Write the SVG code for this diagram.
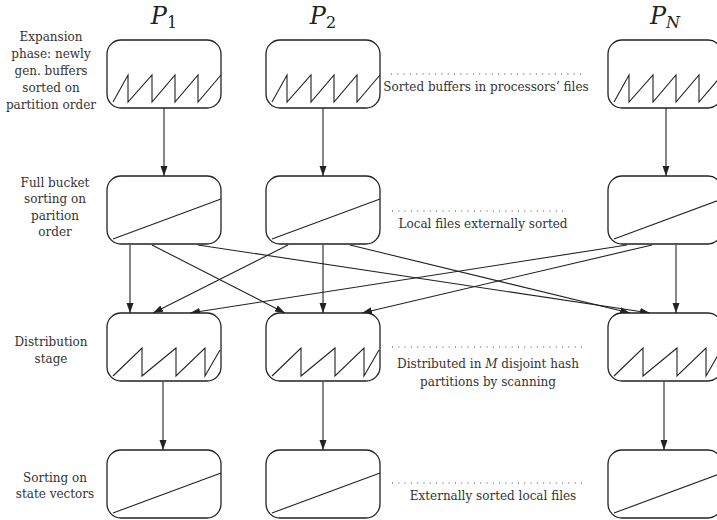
<svg xmlns="http://www.w3.org/2000/svg" width="717" height="520" viewBox="0 0 717 520">
  <style>
    .box { fill: #fff; stroke: #222; stroke-width: 1.3; }
    .mark { fill: none; stroke: #222; stroke-width: 1.1; stroke-linejoin: miter; }
    .edge { fill: none; stroke: #222; stroke-width: 1.1; marker-end: url(#arrow); }
    .dots { fill: none; stroke: #444; stroke-width: 1; stroke-dasharray: 1 5.3; }
    .lbl { font-family: "DejaVu Serif", serif; font-size: 12px; fill: #333; text-anchor: middle; }
    .proc { font-family: "DejaVu Serif", serif; font-size: 24px; fill: #222; text-anchor: middle; }
    .sub { font-size: 16px; }
  </style>
  <defs>
    <marker id="arrow" markerUnits="userSpaceOnUse" markerWidth="11" markerHeight="8" refX="10" refY="3.5" orient="auto">
      <path d="M0,0 L10,3.5 L0,7 z" fill="#222"/>
    </marker>
    <!-- buffer with many short sorted runs -->
    <g id="runs-many">
      <rect class="box" x="0" y="0" width="114" height="68" rx="14" ry="14"/>
      <path class="mark" d="M6,62 L21,35 L21,62 L45,35 L45,62 L68,35 L68,62 L91,35 L91,62 L114,35"/>
    </g>
    <!-- fully sorted file -->
    <g id="runs-one">
      <rect class="box" x="0" y="0" width="114" height="68" rx="14" ry="14"/>
      <path class="mark" d="M6,63 L114,23"/>
    </g>
    <!-- hash partitions -->
    <g id="runs-part">
      <rect class="box" x="0" y="0" width="114" height="68" rx="14" ry="14"/>
      <path class="mark" d="M6,63 L35,35 L35,63 L69,35 L69,63 L98,35 L98,63 L113,37"/>
    </g>
  </defs>

  <!-- processor headers -->
  <g id="headers">
    <text class="proc" x="164" y="24"><tspan font-style="italic">P</tspan><tspan class="sub" dy="4">1</tspan></text>
    <text class="proc" x="323" y="24"><tspan font-style="italic">P</tspan><tspan class="sub" dy="4">2</tspan></text>
    <text class="proc" x="665" y="24"><tspan font-style="italic">P</tspan><tspan class="sub" font-style="italic" dy="4">N</tspan></text>
  </g>

  <!-- stage descriptions on the left -->
  <g id="stage-labels">
    <text class="lbl" x="51" y="41">Expansion</text>
    <text class="lbl" x="51" y="58">phase: newly</text>
    <text class="lbl" x="51" y="75">gen. buffers</text>
    <text class="lbl" x="51" y="92">sorted on</text>
    <text class="lbl" x="51" y="109">partition order</text>

    <text class="lbl" x="55" y="187">Full bucket</text>
    <text class="lbl" x="55" y="203">sorting on</text>
    <text class="lbl" x="55" y="220">parition</text>
    <text class="lbl" x="55" y="236">order</text>

    <text class="lbl" x="51" y="346">Distribution</text>
    <text class="lbl" x="51" y="363">stage</text>

    <text class="lbl" x="55" y="482">Sorting on</text>
    <text class="lbl" x="55" y="498">state vectors</text>
  </g>

  <!-- connectors -->
  <g id="connectors">
    <line class="edge" x1="164" y1="108" x2="164" y2="176"/>
    <line class="edge" x1="323" y1="108" x2="323" y2="176"/>
    <line class="edge" x1="666" y1="108" x2="666" y2="176"/>

    <line class="edge" x1="130" y1="245" x2="130" y2="313"/>
    <line class="edge" x1="152" y1="245" x2="285" y2="313"/>
    <line class="edge" x1="198" y1="245" x2="650" y2="313"/>
    <line class="edge" x1="288" y1="245" x2="153" y2="313"/>
    <line class="edge" x1="323" y1="245" x2="323" y2="313"/>
    <line class="edge" x1="350" y1="245" x2="630" y2="313"/>
    <line class="edge" x1="627" y1="245" x2="190" y2="313"/>
    <line class="edge" x1="652" y1="245" x2="362" y2="313"/>
    <line class="edge" x1="676" y1="245" x2="676" y2="313"/>

    <line class="edge" x1="163" y1="382" x2="163" y2="450"/>
    <line class="edge" x1="323" y1="382" x2="323" y2="450"/>
    <line class="edge" x1="664" y1="382" x2="664" y2="450"/>
  </g>

  <!-- row 1: expansion -->
  <g id="p1-expand"><use href="#runs-many" x="107" y="40"/></g>
  <g id="p2-expand"><use href="#runs-many" x="266" y="40"/></g>
  <g id="pn-expand"><use href="#runs-many" x="608" y="40"/></g>

  <!-- row 2: bucket sorting -->
  <g id="p1-bucket"><use href="#runs-one" x="107" y="176"/></g>
  <g id="p2-bucket"><use href="#runs-one" x="266" y="176"/></g>
  <g id="pn-bucket"><use href="#runs-one" x="608" y="176"/></g>

  <!-- row 3: distribution -->
  <g id="p1-distrib"><use href="#runs-part" x="107" y="313"/></g>
  <g id="p2-distrib"><use href="#runs-part" x="266" y="313"/></g>
  <g id="pn-distrib"><use href="#runs-part" x="608" y="313"/></g>

  <!-- row 4: state vector sorting -->
  <g id="p1-state"><use href="#runs-one" x="107" y="450"/></g>
  <g id="p2-state"><use href="#runs-one" x="266" y="450"/></g>
  <g id="pn-state"><use href="#runs-one" x="608" y="450"/></g>

  <!-- ellipsis notes between columns -->
  <g id="notes">
    <line class="dots" x1="391" y1="74" x2="583" y2="74"/>
    <text class="lbl" x="486" y="91">Sorted buffers in processors’ files</text>

    <line class="dots" x1="392" y1="211" x2="568" y2="211"/>
    <text class="lbl" x="483" y="228">Local files externally sorted</text>

    <line class="dots" x1="392" y1="347" x2="583" y2="347"/>
    <text class="lbl" x="488" y="368">Distributed in <tspan font-style="italic">M</tspan> disjoint hash</text>
    <text class="lbl" x="488" y="386">partitions by scanning</text>

    <line class="dots" x1="392" y1="483" x2="583" y2="483"/>
    <text class="lbl" x="493" y="500">Externally sorted local files</text>
  </g>
</svg>
